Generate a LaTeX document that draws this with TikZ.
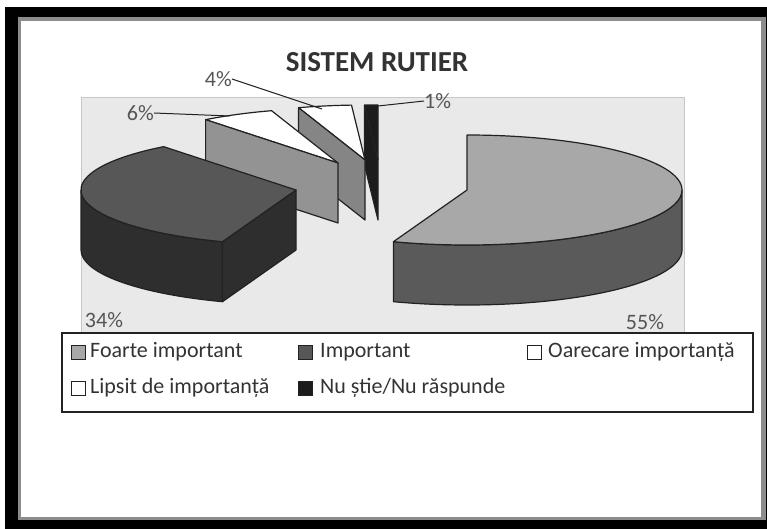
\documentclass[tikz,border=0pt]{standalone}
\usepackage{fontspec}
\setmainfont{Carlito}
\definecolor{plotbg}{HTML}{E9E9E9}
\definecolor{foartetop}{HTML}{A8A8A8}
\definecolor{foarteside}{HTML}{5A5A5A}
\definecolor{imptop}{HTML}{575757}
\definecolor{impside}{HTML}{2E2E2E}
\definecolor{panelsix}{HTML}{939393}
\definecolor{panelfour}{HTML}{858585}
\definecolor{sliver}{HTML}{1C1C1C}
\definecolor{edge}{HTML}{222222}
\definecolor{txt}{HTML}{333333}
\definecolor{pcttxt}{HTML}{555555}
\begin{document}
\begin{tikzpicture}[x=1pt,y=-1pt,
  slice/.style={draw=edge, line width=1.2pt, line join=round},
  leader/.style={draw=edge, line width=1pt},
  pct/.style={font=\fontsize{22}{26}\selectfont, text=pcttxt, inner sep=0pt},
  legtxt/.style={font=\fontsize{22}{26}\selectfont, text=txt, anchor=west, inner sep=0pt},
  legmark/.style={draw=edge, line width=1pt, minimum size=14pt, inner sep=0pt},
  er/.style={x radius=215, y radius=55}
]
\useasboundingbox (0,0) rectangle (767,529);
% frame
\fill[white] (0,0) rectangle (767,529);
\fill[black] (5,7) rectangle (767,529);
\fill[black!45] (18,17) rectangle (766,520);
\fill[white] (21,21) rectangle (761,517);
% plot area
\filldraw[fill=plotbg, draw=black!22, line width=0.6pt] (81,97) rectangle (684,335);
% title
\node[font=\bfseries\fontsize{29}{34}\selectfont, text=txt, inner sep=0pt] (title) at (377,62) {SISTEM RUTIER};

% 1% slice
\begin{scope}[shift={(378,160)}]
  \filldraw[slice, fill=sliver] (0,0) -- (266.4:215 and 55) -- ++(0,60) -- (0,60) -- cycle;
  \filldraw[slice, fill=sliver] (0,0) -- (266.4:215 and 55) arc[start angle=266.4, end angle=270, er] -- cycle;
  \coordinate (s1) at (0,-54);
\end{scope}
% 4% slice
\begin{scope}[shift={(365,160)}]
  \filldraw[slice, fill=white] (0,0) -- (252:215 and 55) arc[start angle=252, end angle=266.4, er] -- cycle;
  \filldraw[slice, fill=panelfour] (0,0) -- (252:215 and 55) -- ++(0,60) -- (0,60) -- cycle;
  \coordinate (s4) at (-43,-51);
\end{scope}
% 6% slice
\begin{scope}[shift={(338,163)}]
  \filldraw[slice, fill=white] (0,0) -- (232:215 and 55) arc[start angle=232, end angle=252, er] -- cycle;
  \filldraw[slice, fill=panelsix] (0,0) -- (232:215 and 55) -- ++(0,60) -- (0,60) -- cycle;
  \coordinate (s6) at (-108,-47);
\end{scope}
% Important (34%)
\begin{scope}[shift={(296,190)}]
  \filldraw[slice, fill=impside] (180:215 and 55) arc[start angle=180, end angle=110, er] -- ++(0,60) arc[start angle=110, end angle=180, er] -- cycle;
  \filldraw[slice, fill=impside] (0,0) -- (110:215 and 55) -- ++(0,60) -- (0,60) -- cycle;
  \filldraw[slice, fill=imptop] (0,0) -- (110:215 and 55) arc[start angle=110, end angle=232, er] -- cycle;
\end{scope}
% Foarte important (55%)
\begin{scope}[shift={(467,190)}]
  \filldraw[slice, fill=foarteside] (0:215 and 55) arc[start angle=0, end angle=110, er] -- ++(0,60) arc[start angle=110, end angle=0, er] -- cycle;
  \filldraw[slice, fill=foartetop] (0,0) -- (-90:215 and 55) arc[start angle=-90, end angle=110, er] -- cycle;
\end{scope}

% percentage labels and leaders
\node[pct, anchor=east] (p6) at (154,113) {6\%};
\node[pct, anchor=east] (p4) at (232,79) {4\%};
\node[pct, anchor=west] (p1) at (424,101) {1\%};
\node[pct] (p34) at (104,320) {34\%};
\node[pct] (p55) at (645,322) {55\%};
\draw[leader] (p6.east) -- (s6);
\draw[leader] (p4.east) -- (s4);
\draw[leader] (p1.west) -- (s1);

% legend
\filldraw[fill=white, draw=edge, line width=1.2pt] (62,333) rectangle (753,412);
\node[legmark, fill=foartetop] (m1) at (78,352) {};
\node[legtxt] (t1) at (90,352) {Foarte important};
\node[legmark, fill=imptop] (m2) at (305,352) {};
\node[legtxt] (t2) at (320,352) {Important};
\node[legmark, fill=white] (m3) at (534,352) {};
\node[legtxt] (t3) at (548,352) {Oarecare importanță};
\node[legmark, fill=white] (m4) at (78,388) {};
\node[legtxt] (t4) at (90,388) {Lipsit de importanță};
\node[legmark, fill=sliver] (m5) at (305,388) {};
\node[legtxt] (t5) at (320,388) {Nu știe/Nu răspunde};
\end{tikzpicture}
\end{document}
